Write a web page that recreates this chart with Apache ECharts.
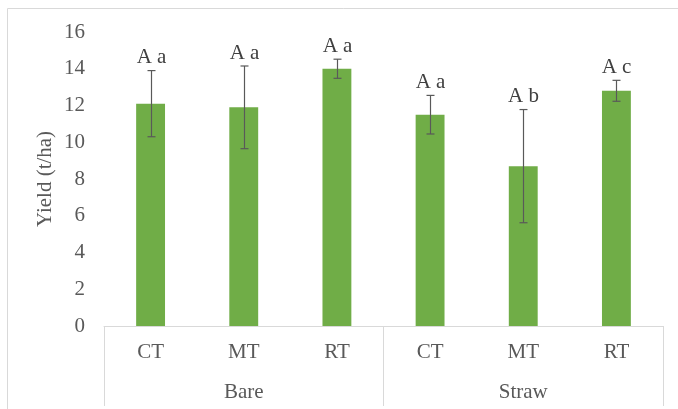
<!DOCTYPE html>
<html><head><meta charset="utf-8">
<script src="https://cdn.jsdelivr.net/npm/echarts@6/dist/echarts.min.js"></script>
<style>html,body{margin:0;padding:0;background:#fff}#c{width:678px;height:409px}</style>
</head><body><div id="c"></div>
<script>
const categories = ['CT','MT','RT','CT','MT','RT'];
const groups = ['Bare','Straw'];
const yieldValues = [12.1, 11.9, 14.0, 11.5, 8.7, 12.8];
const errValues = [1.8, 2.25, 0.52, 1.05, 3.08, 0.57];
const letters = ['A a','A a','A a','A a','A b','A c'];
const yTicks = [0,2,4,6,8,10,12,14,16];

const font = '"Liberation Serif","Times New Roman",serif';
const txt = '#595959';
const fs = 21;
const chart = echarts.init(document.getElementById('c'));
chart.setOption({
  animation:false,
  graphic:[{type:'rect',shape:{x:7.5,y:8.5,width:700,height:420},style:{fill:'none',stroke:'#d9d9d9',lineWidth:1},silent:true}],
  grid:{left:104,right:15,top:32,bottom:83,containLabel:false},
  xAxis:[{
    type:'category',data:categories,
    axisLine:{lineStyle:{color:'#d9d9d9',width:1}},
    axisTick:{show:false},
    axisLabel:{color:txt,fontFamily:font,fontSize:fs,margin:16}
  },{
    type:'category',data:groups,position:'bottom',
    axisLine:{show:false},
    axisTick:{show:true,alignWithLabel:false,length:80,lineStyle:{color:'#d9d9d9'}},
    axisLabel:{color:txt,fontFamily:font,fontSize:fs,margin:56}
  }],
  yAxis:{
    type:'value',min:0,max:16,interval:2,
    name:'Yield (t/ha)',nameLocation:'middle',nameGap:48,nameRotate:90,nameMoveOverlap:false,
    nameTextStyle:{color:txt,fontFamily:font,fontSize:fs},
    axisLine:{show:false},axisTick:{show:false},splitLine:{show:false},
    axisLabel:{color:txt,fontFamily:font,fontSize:fs,margin:19,
      formatter:v=>yTicks.includes(v)?String(v):''}
  },
  series:[{
    type:'bar',data:yieldValues,barWidth:'31%',
    itemStyle:{color:'#70AD47'}
  },{
    type:'custom',
    data:yieldValues.map((v,i)=>[i,v,errValues[i]]),
    z:10,
    renderItem:function(params,api){
      const i=api.value(0),v=api.value(1),e=api.value(2);
      const top=api.coord([i,v+e]);
      const bot=api.coord([i,v-e]);
      const x=Math.round(top[0])+0.5;
      const cw=4;
      const st={stroke:'#595959',lineWidth:1.2};
      return {type:'group',children:[
        {type:'line',shape:{x1:x,y1:top[1],x2:x,y2:bot[1]},style:st},
        {type:'line',shape:{x1:x-cw,y1:top[1],x2:x+cw,y2:top[1]},style:st},
        {type:'line',shape:{x1:x-cw,y1:bot[1],x2:x+cw,y2:bot[1]},style:st},
        {type:'text',x:x,y:top[1]-13,style:{text:letters[params.dataIndex],fill:'#404040',
          font:fs+'px '+font,align:'center',verticalAlign:'middle'}}
      ]};
    }
  }]
});
</script></body></html>
